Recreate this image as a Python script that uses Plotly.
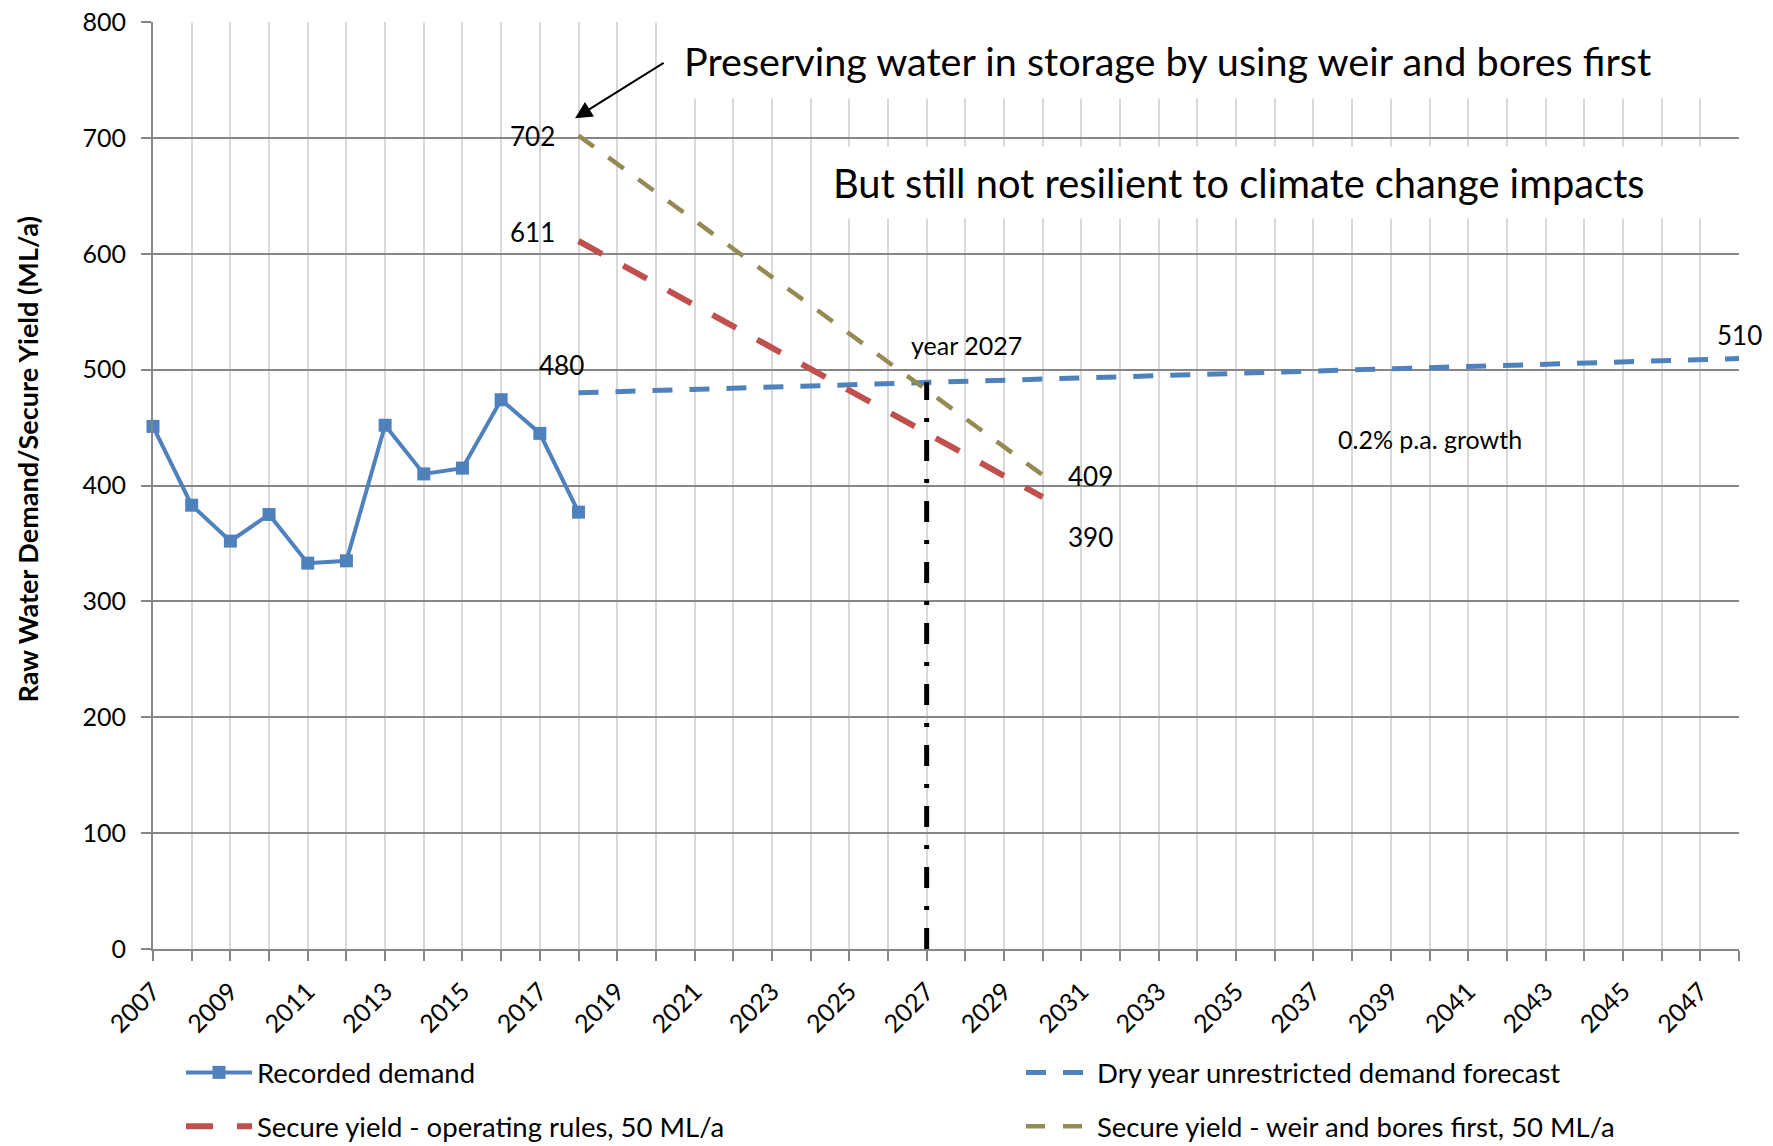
import plotly.graph_objects as go

# ---------------- data ----------------
hist_years = [2007, 2008, 2009, 2010, 2011, 2012, 2013, 2014, 2015, 2016, 2017, 2018]
recorded_demand = [451, 383, 352, 375, 333, 335, 452, 410, 415, 474, 445, 377]

forecast_years = list(range(2018, 2049))
dry_year_forecast = [480.0, 481.0, 481.9, 482.9, 483.9, 484.8, 485.8, 486.8, 487.7, 488.7,
                     489.7, 490.7, 491.7, 492.7, 493.6, 494.6, 495.6, 496.6, 497.6, 498.6,
                     499.6, 500.6, 501.6, 502.6, 503.6, 504.6, 505.6, 506.6, 507.6, 508.6, 509.6]

yield_years = list(range(2018, 2031))
secure_yield_rules = [611, 592.6, 574.2, 555.8, 537.3, 518.9, 500.5, 482.1, 463.7, 445.3, 426.8, 408.4, 390]
secure_yield_weir = [702, 677.6, 653.2, 628.8, 604.3, 579.9, 555.5, 531.1, 506.7, 482.3, 457.8, 433.4, 409]

marker_years = [2027, 2027]
marker_values = [0, 489]

x_tick_years = list(range(2007, 2048, 2))
x_tick_labels = [str(y) for y in x_tick_years]
y_ticks = [0, 100, 200, 300, 400, 500, 600, 700, 800]

BLUE = "#4f81bd"
RED = "#c0504d"
GOLD = "#948a54"
FONT = "Lato"

fig = go.Figure()

fig.add_trace(go.Scatter(
    x=hist_years, y=recorded_demand, mode="lines+markers", name="Recorded demand",
    line=dict(color=BLUE, width=4), marker=dict(symbol="square", size=13, color=BLUE),
    cliponaxis=False, legend="legend", legendgroup="g1"))

fig.add_trace(go.Scatter(
    x=forecast_years, y=dry_year_forecast, mode="lines", name="Dry year unrestricted demand forecast",
    line=dict(color=BLUE, width=5, dash="20px,17px"),
    legend="legend2", legendgroup="g2"))

fig.add_trace(go.Scatter(
    x=yield_years, y=secure_yield_rules, mode="lines", name="Secure yield - operating rules, 50 ML/a",
    line=dict(color=RED, width=6, dash="27px,24px"),
    legend="legend", legendgroup="g3"))

fig.add_trace(go.Scatter(
    x=yield_years, y=secure_yield_weir, mode="lines", name="Secure yield - weir and bores first, 50 ML/a",
    line=dict(color=GOLD, width=4.5, dash="19px,18px"),
    legend="legend2", legendgroup="g4"))

fig.add_trace(go.Scatter(
    x=marker_years, y=marker_values, mode="lines", showlegend=False,
    line=dict(color="black", width=5, dash="21px,18px,4px,18px")))

# body margin is removed in the page, so figure coords = screen coords
L, R, T, B = 153, 34, 22, 197
W, H = 1773, 1146
pw, ph = W - L - R, H - T - B


def sx(px):
    return (px - L) / pw


def sy(py):
    return (H - B - py) / ph


NB = "\u00a0" * 8

fig.update_layout(
    width=W, height=H,
    margin=dict(l=L, r=R, t=T, b=B, autoexpand=False),
    plot_bgcolor="white", paper_bgcolor="white",
    font=dict(family=FONT, size=25, color="black"),
    showlegend=True,
    legend=dict(x=sx(181), y=sy(1048), xanchor="left", yanchor="top",
                orientation="v", itemwidth=66, tracegroupgap=15,
                bgcolor="rgba(0,0,0,0)", font=dict(family=FONT, size=27.5)),
    legend2=dict(x=sx(1021), y=sy(1048), xanchor="left", yanchor="top",
                 orientation="v", itemwidth=66, tracegroupgap=15,
                 bgcolor="rgba(0,0,0,0)", font=dict(family=FONT, size=27.5)),
    xaxis=dict(range=[2007, 2048], tickmode="array", tickvals=x_tick_years, ticktext=x_tick_labels,
               tickangle=-45, tickfont=dict(family=FONT, size=25),
               showgrid=True, gridcolor="#d9d9d9", gridwidth=2,
               ticks="outside", ticklen=10, tickwidth=2, tickcolor="#868686",
               showline=True, linecolor="#868686", linewidth=2, zeroline=False,
               ticklabelstandoff=6,
               minor=dict(dtick=1, tick0=2007, showgrid=True, gridcolor="#d9d9d9", gridwidth=2,
                          ticks="outside", ticklen=10, tickwidth=2, tickcolor="#868686")),
    yaxis=dict(range=[0, 800], tickmode="array", tickvals=y_ticks,
               tickfont=dict(family=FONT, size=25),
               showgrid=True, gridcolor="#868686", gridwidth=2,
               ticks="outside", ticklen=10, tickwidth=2, tickcolor="#868686",
               showline=True, linecolor="#868686", linewidth=2, zeroline=False,
               ticklabelstandoff=10,
               title=dict(text="<b>" + NB + "Raw Water Demand/Secure Yield (ML/a)</b>",
                          font=dict(family=FONT, size=27), standoff=36)),
)

annotations = [
    dict(x=sx(683), y=sy(60), xref="paper", yref="paper", xanchor="left", yanchor="middle",
         text="Preserving water in storage by using weir and bores first", showarrow=False,
         align="left", width=1050, height=76, bgcolor="white", borderpad=0,
         font=dict(family=FONT, size=39.6)),
    dict(x=sx(832), y=sy(182), xref="paper", yref="paper", xanchor="left", yanchor="middle",
         text="But still not resilient to climate change impacts", showarrow=False,
         align="left", width=902, height=71, bgcolor="white", borderpad=0,
         font=dict(family=FONT, size=39.8)),
    dict(x=2017.91, y=717, ax=2020.24, ay=765.5, axref="x", ayref="y", xref="x", yref="y",
         text="", showarrow=True, arrowhead=2, arrowsize=1.7, arrowwidth=2, arrowcolor="black"),
    dict(x=2017.45, y=702, xref="x", yref="y", xanchor="right", text="702", showarrow=False,
         font=dict(size=26)),
    dict(x=2017.45, y=619, xref="x", yref="y", xanchor="right", text="611", showarrow=False,
         font=dict(size=26)),
    dict(x=2017.57, y=504, xref="x", yref="y", xanchor="center", text="480", showarrow=False,
         font=dict(size=26)),
    dict(x=2028.04, y=521, xref="x", yref="y", xanchor="center", text="year 2027", showarrow=False,
         font=dict(size=25)),
    dict(x=2030.6, y=408, xref="x", yref="y", xanchor="left", text="409", showarrow=False,
         font=dict(size=26)),
    dict(x=2030.6, y=355.5, xref="x", yref="y", xanchor="left", text="390", showarrow=False,
         font=dict(size=26)),
    dict(x=2048.0, y=530, xref="x", yref="y", xanchor="center", text="510", showarrow=False,
         font=dict(size=26)),
    dict(x=2040.0, y=440, xref="x", yref="y", xanchor="center", text="0.2% p.a. growth",
         showarrow=False, font=dict(size=25)),
]
fig.update_layout(annotations=annotations)

fig.write_html(
    "out.html",
    config={"displayModeBar": False},
    post_script="document.body.style.margin='0';document.body.style.padding='0';",
)
